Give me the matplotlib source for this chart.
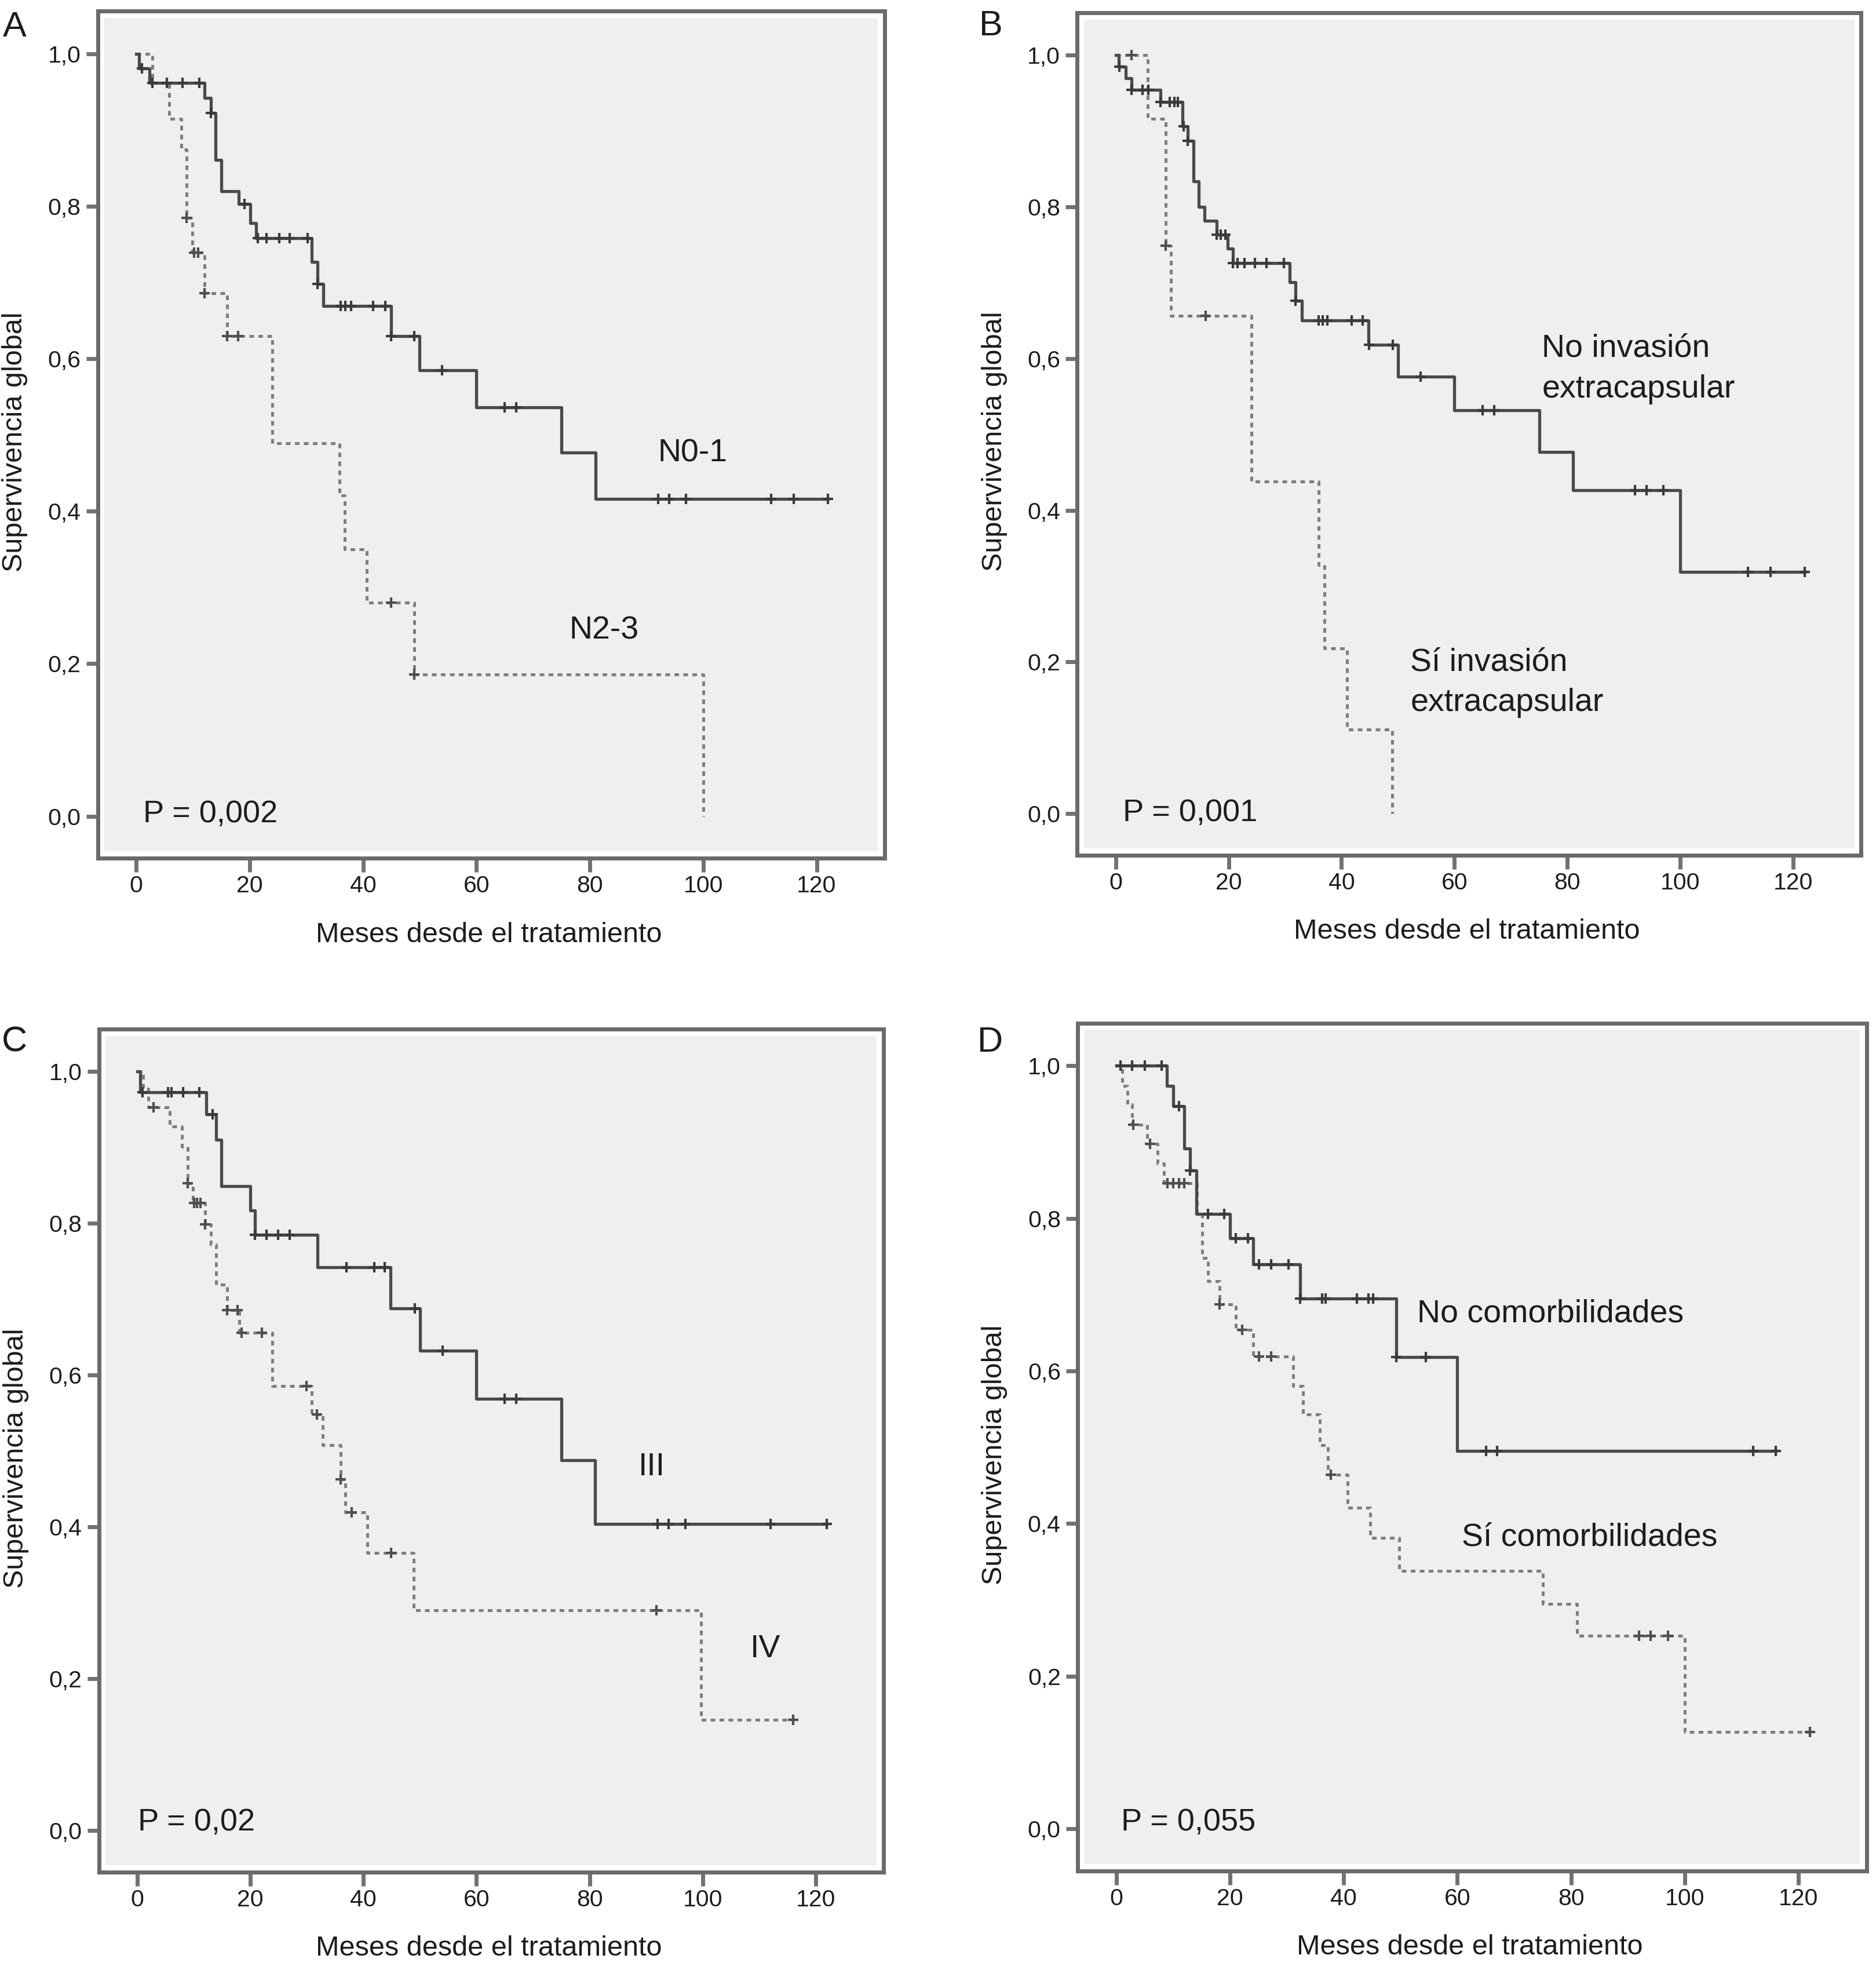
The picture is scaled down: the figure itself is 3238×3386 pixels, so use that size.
import numpy as np
import matplotlib
matplotlib.use("Agg")
import matplotlib.pyplot as plt
from matplotlib.patches import Rectangle

plt.rcParams['font.family'] = ['Liberation Sans', 'DejaVu Sans']

# ---- data (months, survival) ----
x_ticks = [0, 20, 40, 60, 80, 100, 120]
y_ticks = [0.0, 0.2, 0.4, 0.6, 0.8, 1.0]
y_tick_labels = ['0,0', '0,2', '0,4', '0,6', '0,8', '1,0']
x_label = 'Meses desde el tratamiento'
y_label = 'Supervivencia global'

# A: N0-1 (solid) / N2-3 (dashed)
a1_times = [0.5, 2.3, 12.1, 13.2, 14.0, 15.0, 18.1, 20.1, 21.1, 31.0, 32.0, 33.0, 44.9, 50.0, 60.0, 75.0, 81.0]
a1_surv = [0.981, 0.962, 0.942, 0.922, 0.861, 0.820, 0.803, 0.778, 0.758, 0.727, 0.698, 0.669, 0.630, 0.585, 0.536, 0.477, 0.416]
a1_cens = [1.0, 2.9, 5.4, 8.2, 11.1, 13.2, 19.1, 21.4, 23.0, 25.2, 27.1, 30.2, 32.0, 36.1, 36.9, 37.9, 41.8,
           43.9, 45.0, 49.0, 53.9, 65.0, 67.0, 92.0, 94.0, 97.0, 112.0, 116.0, 122.0]
a1_end = 122.0
a2_times = [2.9, 5.8, 8.0, 8.9, 9.9, 12.1, 16.0, 24.0, 35.9, 36.8, 40.7, 49.0, 100.0]
a2_surv = [0.962, 0.915, 0.874, 0.785, 0.739, 0.686, 0.630, 0.489, 0.421, 0.350, 0.280, 0.186, 0.0]
a2_cens = [8.9, 10.2, 10.9, 12.1, 16.0, 18.0, 45.0, 49.0]
a2_end = 100.0

# B: No invasión (solid) / Sí invasión (dashed)
b1_times = [0.5, 1.8, 2.8, 7.9, 11.8, 12.8, 13.8, 14.7, 15.7, 17.9, 19.8, 20.8, 30.8, 31.8, 33.0, 44.8,
            50.0, 60.0, 75.0, 81.0, 100.0]
b1_surv = [0.985, 0.970, 0.954, 0.938, 0.906, 0.887, 0.834, 0.800, 0.782, 0.763, 0.745, 0.726, 0.701, 0.676,
           0.650, 0.618, 0.576, 0.532, 0.477, 0.426, 0.319]
b1_cens = [0.7, 2.8, 4.8, 5.8, 7.9, 9.6, 10.4, 11.0, 12.0, 12.8, 17.9, 18.6, 19.4, 20.8, 21.6, 22.8, 24.7,
           26.7, 29.8, 31.8, 35.9, 36.7, 37.5, 41.8, 43.8, 44.9, 49.1, 54.0, 65.0, 67.0, 92.0, 94.0, 97.0,
           112.0, 116.0, 122.0]
b1_end = 122.0
b2_times = [5.7, 8.9, 9.8, 24.0, 36.0, 37.0, 41.0, 49.0]
b2_surv = [0.916, 0.749, 0.656, 0.438, 0.328, 0.218, 0.111, 0.0]
b2_cens = [2.8, 8.9, 15.9]
b2_end = 49.0

# C: III (solid) / IV (dashed)
c1_times = [0.5, 12.2, 13.9, 14.9, 20.0, 20.8, 31.9, 44.8, 50.0, 60.0, 75.0, 81.0]
c1_surv = [0.973, 0.944, 0.910, 0.849, 0.817, 0.785, 0.742, 0.688, 0.632, 0.569, 0.488, 0.404]
c1_cens = [0.9, 5.4, 6.0, 8.1, 11.0, 13.3, 20.8, 22.9, 24.9, 27.0, 37.0, 41.9, 43.8, 49.1, 54.0, 65.0,
           67.0, 92.0, 94.0, 97.0, 112.0, 122.0]
c1_end = 122.0
c2_times = [1.0, 2.0, 5.75, 7.9, 8.9, 9.85, 12.0, 13.0, 13.9, 15.9, 18.0, 23.9, 30.9, 32.8, 36.0, 36.8,
            40.7, 48.9, 99.7]
c2_surv = [0.977, 0.953, 0.928, 0.901, 0.853, 0.827, 0.799, 0.772, 0.719, 0.686, 0.656, 0.586, 0.548,
           0.508, 0.463, 0.419, 0.366, 0.290, 0.146]
c2_cens = [2.9, 8.9, 10.0, 10.6, 11.2, 12.0, 15.9, 17.7, 18.5, 22.0, 29.9, 31.8, 36.0, 37.9, 44.9,
           91.8, 116.0]
c2_end = 116.0

# D: No comorbilidades (solid) / Sí comorbilidades (dashed)
d1_times = [8.9, 10.0, 12.0, 13.0, 14.1, 20.0, 24.1, 32.3, 49.3, 60.0]
d1_surv = [0.974, 0.947, 0.892, 0.863, 0.806, 0.774, 0.740, 0.695, 0.618, 0.495]
d1_cens = [0.7, 2.8, 5.0, 8.0, 11.0, 13.0, 16.1, 19.0, 21.0, 23.2, 25.1, 27.2, 30.3, 32.3, 36.2, 36.8,
           42.3, 44.4, 45.2, 49.3, 54.4, 65.0, 67.0, 112.0, 116.0]
d1_end = 116.0
d2_times = [1.0, 2.0, 2.8, 5.4, 7.3, 8.4, 14.2, 15.1, 16.1, 18.2, 21.0, 24.1, 31.1, 32.8, 35.8, 37.2,
            40.7, 44.7, 49.8, 75.0, 81.0, 100.0]
d2_surv = [0.974, 0.949, 0.923, 0.898, 0.872, 0.846, 0.806, 0.748, 0.718, 0.687, 0.654, 0.619, 0.580,
           0.543, 0.503, 0.464, 0.421, 0.381, 0.338, 0.295, 0.253, 0.127]
d2_cens = [3.0, 5.9, 9.0, 10.0, 11.0, 12.0, 18.2, 22.1, 25.1, 27.2, 37.7, 92.0, 94.0, 97.0, 122.0]
d2_end = 122.0

panel_letters = ['A', 'B', 'C', 'D']
p_values = ['P = 0,002', 'P = 0,001', 'P = 0,02', 'P = 0,055']
# (text, x in months, y of the last line's baseline)
curve_labels = [
    [('N0-1', 92.0, 0.465), ('N2-3', 76.4, 0.233)],
    [('No invasión\nextracapsular', 75.5, 0.549), ('Sí invasión\nextracapsular', 52.2, 0.135)],
    [('III', 88.6, 0.468), ('IV', 108.4, 0.228)],
    [('No comorbilidades', 52.9, 0.664), ('Sí comorbilidades', 60.8, 0.371)],
]
p_pos = [(1.2, -0.008), (1.3, -0.010), (0.1, 0.0), (0.8, -0.002)]

curves = [
    [(a1_times, a1_surv, a1_cens, a1_end), (a2_times, a2_surv, a2_cens, a2_end)],
    [(b1_times, b1_surv, b1_cens, b1_end), (b2_times, b2_surv, b2_cens, b2_end)],
    [(c1_times, c1_surv, c1_cens, c1_end), (c2_times, c2_surv, c2_cens, c2_end)],
    [(d1_times, d1_surv, d1_cens, d1_end), (d2_times, d2_surv, d2_cens, d2_end)],
]

# axes rectangles in figure fraction (left, bottom, width, height)
rects = [
    (0.05204, 0.56261, 0.41955, 0.43178),
    (0.57424, 0.56409, 0.41773, 0.42942),
    (0.05269, 0.04578, 0.41828, 0.42971),
    (0.57443, 0.04649, 0.42063, 0.43208),
]
letter_pos = [(0.0015, 0.9814), (0.5219, 0.9820), (0.0009, 0.4640), (0.5210, 0.4640)]

TXT = '#1c1c1c'
FRAME = '#6a6a6a'
SOLID = '#4a4a4a'
DASH = '#7e7e7e'


def draw_km(ax, times, surv, cens, end, dashed):
    xs = np.concatenate([[0.0], times, [end]])
    ys = np.concatenate([[1.0], surv, [surv[-1]]])
    if dashed:
        ax.plot(xs, ys, drawstyle='steps-post', color=DASH, lw=3.6,
                linestyle=(0, (1.6, 1.5)), zorder=3)
    else:
        ax.plot(xs, ys, drawstyle='steps-post', color=SOLID, lw=3.8, zorder=4)
    # censored points sit on the curve level at their time
    idx = np.searchsorted(np.asarray(times), np.asarray(cens), side='right')
    levels = np.concatenate([[1.0], surv])[idx]
    ax.plot(cens, levels, linestyle='none', marker='+', ms=13, mew=3.0,
            color='#3a3a3a' if not dashed else '#4e4e4e', zorder=5)


fig = plt.figure(figsize=(32.38, 33.86), dpi=100)
fig.patch.set_facecolor('white')

for i in range(4):
    ax = fig.add_axes(rects[i])
    ax.set_facecolor('white')
    ax.add_patch(Rectangle((0.0085, 0.008), 1 - 0.017, 1 - 0.016, transform=ax.transAxes,
                           facecolor='#efefef', edgecolor='none', zorder=0))
    for sp in ax.spines.values():
        sp.set_linewidth(5.0)
        sp.set_color(FRAME)

    for k, (t, s, c, e) in enumerate(curves[i]):
        draw_km(ax, t, s, c, e, dashed=(k == 1))

    ax.set_xlim(-6.8, 132.0)
    ax.set_ylim(-0.055, 1.056)
    ax.set_xticks(x_ticks)
    ax.set_xticklabels([str(v) for v in x_ticks])
    ax.set_yticks(y_ticks)
    ax.set_yticklabels(y_tick_labels)
    ax.tick_params(axis='x', length=17, width=5, color='#727272', pad=4,
                   labelsize=29.5, labelcolor=TXT)
    ax.tick_params(axis='y', length=14.5, width=5, color='#727272', pad=6.5,
                   labelsize=29.5, labelcolor=TXT)

    ax.set_xlabel(x_label, fontsize=35, color=TXT)
    ax.xaxis.set_label_coords(0.497, -0.075)
    ax.set_ylabel(y_label, fontsize=35, color=TXT)
    ax.yaxis.set_label_coords(-0.089, 0.491)

    for txt, lx, ly in curve_labels[i]:
        ax.text(lx, ly, txt, fontsize=40, color=TXT, ha='left', va='baseline',
                linespacing=1.45, zorder=6)
    ax.text(p_pos[i][0], p_pos[i][1], p_values[i], fontsize=39, color=TXT,
            ha='left', va='baseline', zorder=6)

    fig.text(letter_pos[i][0], letter_pos[i][1], panel_letters[i], fontsize=44,
             color=TXT, ha='left', va='baseline')

fig.savefig('out.png', dpi=100)
